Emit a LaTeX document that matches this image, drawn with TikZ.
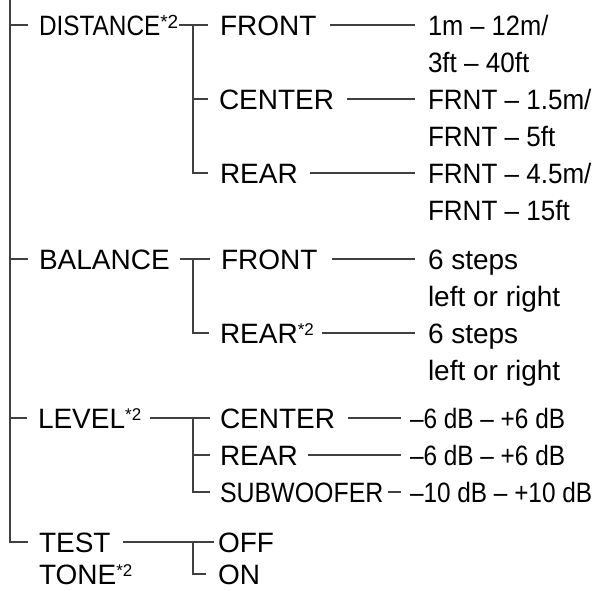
\documentclass[tikz,border=0pt]{standalone}
\usepackage{graphicx}
\usepackage{fontspec}
\setmainfont{Liberation Sans}
\newcommand\supr[2][17]{\raisebox{\dimexpr20.05pt-0.716\dimexpr#1pt\relax\relax}{\fontsize{#1}{#1}\selectfont #2}}
\newcommand\sx[2]{\scalebox{#1}[1]{#2}}
\begin{document}
\begin{tikzpicture}[x=1pt,y=-1pt,
  txt/.style={inner sep=0pt, outer sep=0pt, anchor=west, text height=22.05pt, text depth=2pt, font=\fontsize{28}{32}\selectfont, text=black},
  ln/.style={line width=1.6pt, draw=black!75},
]
\useasboundingbox (0,0) rectangle (598,590);
% first column
\node[txt] (dist) at (39,25) {\sx{0.87}{DISTANCE}\supr[19]{*2}};
\node[txt] (bal) at (39,259) {BALANCE};
\node[txt] (lev) at (38,418) {LEVEL\supr{*2}};
\node[txt] (test) at (39,542) {TEST};
\node[txt] (tone) at (39,574) {TONE\supr{*2}};
% second column
\node[txt] (dfront) at (220,25) {FRONT};
\node[txt] (dcenter) at (219,99) {CENTER};
\node[txt] (drear) at (220,173) {REAR};
\node[txt] (bfront) at (221,259) {FRONT};
\node[txt] (brear) at (220,333) {REAR\supr{*2}};
\node[txt] (lcenter) at (220,418) {CENTER};
\node[txt] (lrear) at (220,455) {REAR};
\node[txt] (lsub) at (220,492) {\sx{0.89}{SUBWOOFER}};
\node[txt] (off) at (218,542) {OFF};
\node[txt] (on) at (218,574) {ON};
% values
\node[txt] (v1a) at (428,25) {\sx{0.91}{1m – 12m/}};
\node[txt] (v1b) at (428,62) {\sx{0.93}{3ft – 40ft}};
\node[txt] (v2a) at (428,99) {\sx{0.93}{FRNT – 1.5m/}};
\node[txt] (v2b) at (428,136) {\sx{0.93}{FRNT – 5ft}};
\node[txt] (v3a) at (428,173) {\sx{0.93}{FRNT – 4.5m/}};
\node[txt] (v3b) at (428,210) {\sx{0.93}{FRNT – 15ft}};
\node[txt] (v4a) at (428,259) {6 steps};
\node[txt] (v4b) at (428,296) {left or right};
\node[txt] (v5a) at (428,333) {6 steps};
\node[txt] (v5b) at (428,370) {left or right};
\node[txt] (v6) at (410,418) {\sx{0.87}{–6 dB – +6 dB}};
\node[txt] (v7) at (410,455) {\sx{0.87}{–6 dB – +6 dB}};
\node[txt] (v8) at (410,492) {\sx{0.87}{–10 dB – +10 dB}};
% spine
\coordinate (spine) at (10,0);
\draw[ln, shorten >=11pt] (spine) |- (test.west);
\foreach \n in {dist,bal,lev} {\draw[ln, shorten >=11pt] (spine |- \n.west) -- (\n.west);}
% distance
\coordinate (dj) at (193,25);
\draw[ln, shorten <=1pt, shorten >=12pt] (dist.east) -- (dfront.west);
\draw[ln, shorten >=12pt] (dj) |- (drear.west);
\draw[ln, shorten >=11pt] (dj |- dcenter.west) -- (dcenter.west);
\draw[ln, shorten <=14pt, shorten >=13pt] (dfront.east) -- (v1a.west);
\draw[ln, shorten <=13pt, shorten >=13pt] (dcenter.east) -- (v2a.west);
\draw[ln, shorten <=12pt, shorten >=13pt] (drear.east) -- (v3a.west);
% balance
\coordinate (bj) at (193,259);
\draw[ln, shorten <=10pt, shorten >=11pt] (bal.east) -- (bfront.west);
\draw[ln, shorten >=11pt] (bj) |- (brear.west);
\draw[ln, shorten <=15pt, shorten >=13pt] (bfront.east) -- (v4a.west);
\draw[ln, shorten <=8pt, shorten >=13pt] (brear.east) -- (v5a.west);
% level
\coordinate (lj) at (193,418);
\draw[ln, shorten <=9pt, shorten >=10pt] (lev.east) -- (lcenter.west);
\draw[ln, shorten >=10pt] (lj) |- (lsub.west);
\draw[ln, shorten >=10pt] (lj |- lrear.west) -- (lrear.west);
\draw[ln, shorten <=13pt, shorten >=9pt] (lcenter.east) -- (v6.west);
\draw[ln, shorten <=10pt, shorten >=9pt] (lrear.east) -- (v7.west);
\draw[ln, shorten <=5pt, shorten >=9pt] (lsub.east) -- (v8.west);
% test tone
\coordinate (tj) at (193,542);
\draw[ln, shorten <=12pt, shorten >=4pt] (test.east) -- (off.west);
\draw[ln, shorten >=12pt] (tj) |- (on.west);
\end{tikzpicture}
\end{document}
